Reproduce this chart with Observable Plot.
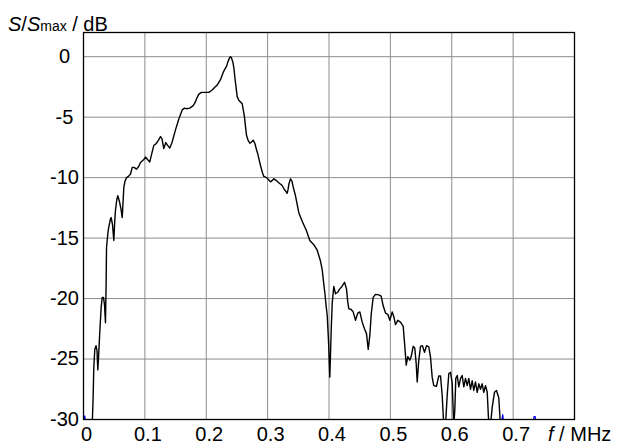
<!DOCTYPE html>
<html>
<head>
<meta charset="utf-8">
<script src="https://cdn.jsdelivr.net/npm/d3@7"></script>
<script src="https://cdn.jsdelivr.net/npm/@observablehq/plot@0.6"></script>
<style>
  html, body { margin: 0; padding: 0; background: white; }
  #chart svg { display: block; }
</style>
</head>
<body>
<div id="chart"></div>
<script>
// Frequency axis (MHz) and normalised spectrum (dB)
const freq = [
  0.0138, 0.0155, 0.0168, 0.0184, 0.0204, 0.0220, 0.0233, 0.0244, 0.0261, 0.0288,
  0.0305, 0.0326, 0.0342, 0.0358, 0.0368, 0.0375, 0.0399, 0.0412, 0.0440, 0.0451,
  0.0473, 0.0494, 0.0508, 0.0521, 0.0543, 0.0559, 0.0587, 0.0611, 0.0631, 0.0657,
  0.0676, 0.0701, 0.0733, 0.0766, 0.0794, 0.0823, 0.0864, 0.0896, 0.0929, 0.0961,
  0.0983, 0.1010, 0.1043, 0.1080, 0.1108, 0.1145, 0.1181, 0.1222, 0.1255, 0.1279,
  0.1308, 0.1341, 0.1374, 0.1406, 0.1442, 0.1499, 0.1553, 0.1608, 0.1646, 0.1678,
  0.1732, 0.1787, 0.1817, 0.1841, 0.1879, 0.1923, 0.1960, 0.2004, 0.2042, 0.2097,
  0.2143, 0.2178, 0.2208, 0.2232, 0.2276, 0.2306, 0.2330, 0.2351, 0.2379, 0.2395,
  0.2411, 0.2436, 0.2452, 0.2468, 0.2485, 0.2504, 0.2530, 0.2558, 0.2586, 0.2607,
  0.2623, 0.2640, 0.2656, 0.2680, 0.2710, 0.2729, 0.2765, 0.2794, 0.2819, 0.2840,
  0.2884, 0.2916, 0.2938, 0.2982, 0.3019, 0.3047, 0.3071, 0.3101, 0.3145, 0.3177,
  0.3237, 0.3275, 0.3291, 0.3319, 0.3332, 0.3348, 0.3373, 0.3397, 0.3413, 0.3454,
  0.3508, 0.3563, 0.3633, 0.3687, 0.3752, 0.3808, 0.3861, 0.3889, 0.3915, 0.3932,
  0.3951, 0.3971, 0.3992, 0.4013, 0.4028, 0.4036, 0.4052, 0.4078, 0.4106, 0.4138,
  0.4176, 0.4212, 0.4253, 0.4285, 0.4306, 0.4323, 0.4362, 0.4394, 0.4432, 0.4469,
  0.4502, 0.4541, 0.4578, 0.4611, 0.4639, 0.4665, 0.4688, 0.4720, 0.4758, 0.4811,
  0.4850, 0.4883, 0.4921, 0.4958, 0.4991, 0.5030, 0.5056, 0.5083, 0.5121, 0.5165,
  0.5209, 0.5230, 0.5258, 0.5284, 0.5316, 0.5339, 0.5372, 0.5398, 0.5421, 0.5437,
  0.5463, 0.5491, 0.5523, 0.5556, 0.5589, 0.5626, 0.5654, 0.5681, 0.5707, 0.5751,
  0.5789, 0.5817, 0.5844, 0.5870, 0.5898, 0.5926, 0.5952, 0.5980, 0.6007, 0.6033,
  0.6050, 0.6066, 0.6089, 0.6115, 0.6143, 0.6170, 0.6196, 0.6224, 0.6252, 0.6278,
  0.6305, 0.6333, 0.6359, 0.6387, 0.6415, 0.6441, 0.6468, 0.6496, 0.6522, 0.6550,
  0.6578, 0.6604, 0.6631, 0.6659, 0.6696, 0.6729, 0.6766, 0.6794
];
const level = [
  -31.0, -28.5, -25.7, -24.2, -23.9, -24.3, -25.9, -25.0, -23.2, -20.7,
  -19.9, -19.9, -20.5, -22.0, -19.0, -15.8, -14.5, -14.1, -13.4, -13.3,
  -13.9, -15.2, -13.7, -12.7, -11.8, -11.5, -12.0, -12.6, -13.3, -10.8,
  -10.3, -10.0, -9.9, -9.7, -9.15, -9.15, -9.3, -9.1, -8.75, -8.6,
  -8.5, -8.3, -8.5, -8.7, -8.1, -7.35, -7.2, -6.9, -6.6, -6.8,
  -7.6, -7.1, -7.35, -7.55, -7.1, -6.05, -5.15, -4.4, -4.25, -4.3,
  -4.25, -4.05, -3.8, -3.5, -3.1, -2.95, -2.95, -2.95, -2.95, -2.75,
  -2.5, -2.35, -2.1, -1.9, -1.3, -1.0, -0.8, -0.45, -0.1, 0.0,
  -0.1, -0.5, -1.0, -1.8, -2.5, -3.3, -3.6, -3.75, -3.9, -4.5,
  -5.0, -5.8, -6.5, -6.9, -7.15, -7.1, -6.9, -7.2, -7.7, -8.05,
  -9.0, -9.6, -9.9, -10.0, -10.2, -10.35, -10.25, -10.1, -10.25, -10.4,
  -10.65, -11.0, -11.1, -11.3, -11.0, -10.5, -10.1, -10.3, -10.7, -11.5,
  -12.9, -13.6, -14.4, -15.2, -15.55, -16.0, -16.9, -17.6, -18.8, -19.5,
  -20.5, -21.4, -23.5, -26.5, -24.0, -22.6, -20.4, -19.0, -19.6, -19.5,
  -19.2, -19.0, -18.65, -19.2, -20.3, -20.85, -20.9, -21.1, -21.8, -21.2,
  -21.1, -21.95, -22.5, -22.9, -24.2, -23.05, -21.3, -19.9, -19.65, -19.7,
  -19.8, -20.6, -21.2, -21.3, -21.8, -21.1, -21.5, -22.15, -21.8, -21.95,
  -22.3, -23.6, -25.5, -24.8, -25.1, -24.8, -23.95, -24.1, -25.4, -26.9,
  -25.1, -23.95, -23.9, -24.45, -23.9, -24.0, -24.85, -26.5, -27.2, -27.25,
  -26.4, -26.4, -28.0, -30.5, -30.5, -28.0, -26.2, -26.1, -27.0, -30.5,
  -29.2, -26.6, -26.36, -27.3, -26.6, -26.36, -27.3, -26.6, -27.2, -26.6,
  -27.5, -26.8, -27.6, -26.9, -27.75, -27.05, -27.5, -27.05, -27.75, -27.2,
  -27.75, -30.5, -30.5, -29.0, -27.75, -27.6, -28.2, -30.5
];

// Second (blue) trace: only tiny fragments visible at the bottom edge
const blueFreq  = [0.000, 0.002, 0.004, 0.681, 0.683, 0.684, 0.686, 0.733, 0.734, 0.736, 0.737];
const blueLevel = [-30.3, -29.7, -30.3, -30.3, -29.6, -30.0, -30.3, -30.3, -29.75, -29.75, -30.3];
const blueSeg   = ["a", "a", "a", "b", "b", "b", "b", "c", "c", "c", "c"];

const xTicks = [0, 0.1, 0.2, 0.3, 0.4, 0.5, 0.6, 0.7];
const yTicks = [-30, -25, -20, -15, -10, -5, 0];
const xGrid = [0.1, 0.2, 0.3, 0.4, 0.5, 0.6, 0.7];
const yGrid = [-25, -20, -15, -10, -5, 0];

const spectrum = freq.map((f, i) => ({f, s: level[i]}));
const blue = blueFreq.map((f, i) => ({f, s: blueLevel[i], seg: blueSeg[i]}));

const FONT = "'Liberation Sans', Arial, Helvetica, sans-serif";

const svg = Plot.plot({
  width: 617,
  height: 445,
  marginLeft: 83,
  marginRight: 43,
  marginTop: 32,
  marginBottom: 26,
  x: {domain: [0, 0.8], axis: null},
  y: {domain: [-30, 2], axis: null},
  style: {fontFamily: FONT, fontSize: "20px", background: "white", color: "black", overflow: "visible"},
  marks: [
    Plot.ruleX(xGrid, {stroke: "#8c8c8c", strokeWidth: 1}),
    Plot.ruleY(yGrid, {stroke: "#8c8c8c", strokeWidth: 1}),
    Plot.line(blue, {x: "f", y: "s", z: "seg", stroke: "#0000ff", strokeWidth: 1.2, clip: true}),
    Plot.line(spectrum, {x: "f", y: "s", stroke: "black", strokeWidth: 1.4, clip: true}),
    Plot.frame({stroke: "black", strokeWidth: 1.3}),
    Plot.text(yTicks, {y: d => d, frameAnchor: "left", dx: -19, textAnchor: "middle", lineAnchor: "middle", text: d => String(d), fontSize: 20, fill: "black"}),
    Plot.text(xTicks, {x: d => d, frameAnchor: "bottom", dx: 3, dy: 15, textAnchor: "middle", lineAnchor: "middle", text: d => String(d), fontSize: 20, fill: "black"})
  ]
});

const sel = d3.select(svg);
// Y axis title: S/Smax / dB
const yt = sel.append("text")
  .attr("x", 8).attr("y", 31)
  .attr("text-anchor", "start")
  .attr("font-family", FONT).attr("font-size", 20).attr("fill", "black");
yt.append("tspan").attr("font-style", "italic").text("S");
yt.append("tspan").text("/");
yt.append("tspan").attr("font-style", "italic").text("S");
yt.append("tspan").attr("font-size", 14).text("max");
yt.append("tspan").text(" / dB");

// X axis title: f / MHz
const xt = sel.append("text")
  .attr("x", 548).attr("y", 441)
  .attr("text-anchor", "start")
  .attr("font-family", FONT).attr("font-size", 20).attr("fill", "black");
xt.append("tspan").attr("font-style", "italic").text("f");
xt.append("tspan").text(" / MHz");

document.getElementById("chart").appendChild(svg);
</script>
</body>
</html>
